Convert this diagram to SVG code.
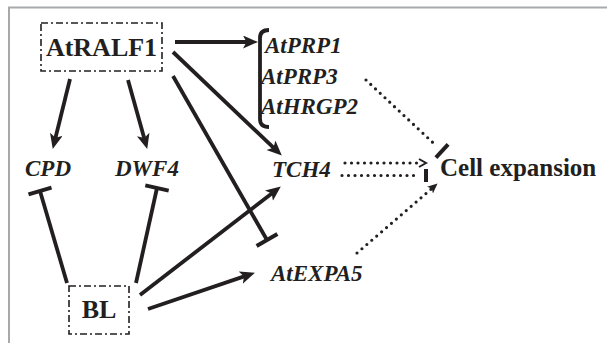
<svg xmlns="http://www.w3.org/2000/svg" width="607" height="343" viewBox="0 0 607 343">
<style>
.frame{stroke:#a7a9ac;stroke-width:2;fill:none}
.box{fill:none;stroke:#231f20;stroke-width:1.6;stroke-dasharray:7 3 2 3}
.lbl{font-family:"Liberation Serif","Times New Roman","DejaVu Serif",serif;font-weight:bold;font-size:26px;fill:#231f20}
.gene{font-family:"Liberation Serif","Times New Roman","DejaVu Serif",serif;font-weight:bold;font-style:italic;font-size:23px;fill:#231f20}
.ln{stroke:#231f20;stroke-width:3.8;fill:none}
.bar{stroke:#231f20;stroke-width:4;fill:none}
.dot{stroke:#231f20;stroke-width:3.2;fill:none;stroke-linecap:round;stroke-dasharray:0 6.5}
</style>
<defs>
<marker id="arr" markerUnits="userSpaceOnUse" markerWidth="20" markerHeight="16" refX="6" refY="6.5" orient="auto" viewBox="0 0 20 16">
<path d="M0,0 L15,6.5 L0,13 L3.5,6.5 Z" fill="#231f20"/>
</marker>
<marker id="arrs" markerUnits="userSpaceOnUse" markerWidth="14" markerHeight="12" refX="4" refY="4.5" orient="auto" viewBox="0 0 14 12">
<path d="M0,0 L10,4.5 L0,9 L2.5,4.5 Z" fill="#231f20"/>
</marker>
</defs>
<g id="frame">
<line class="frame" x1="8" y1="7.5" x2="607" y2="7.5"/>
<line class="frame" x1="9" y1="7" x2="9" y2="343"/>
</g>
<g id="connectors">
<line class="ln" x1="175" y1="42" x2="249" y2="42" marker-end="url(#arr)"/>
<line class="ln" x1="70" y1="79" x2="54.9" y2="140.2" marker-end="url(#arr)"/>
<line class="ln" x1="128" y1="80" x2="144.8" y2="140.3" marker-end="url(#arr)"/>
<line class="ln" x1="173" y1="52" x2="275.3" y2="149.4" marker-end="url(#arr)"/>
<line class="ln" x1="140" y1="295" x2="273.7" y2="191.9" marker-end="url(#arr)"/>
<line class="ln" x1="148" y1="309" x2="246.4" y2="275.6" marker-end="url(#arr)"/>
<line class="ln" x1="173" y1="76" x2="267" y2="240"/>
<line class="bar" x1="256.6" y1="246" x2="277.4" y2="234"/>
<line class="ln" x1="67" y1="283" x2="40" y2="191"/>
<line class="bar" x1="28.5" y1="194.4" x2="51.5" y2="187.6"/>
<line class="ln" x1="136" y1="283" x2="157" y2="188"/>
<line class="bar" x1="145.3" y1="185.4" x2="168.7" y2="190.6"/>
<line class="dot" x1="366" y1="80" x2="436" y2="145.5"/>
<line class="bar" x1="435.9" y1="157.6" x2="448.1" y2="144.4"/>
<line class="dot" x1="345" y1="163" x2="418" y2="163"/>
<polyline points="419,159 426,163 419,167" fill="none" stroke="#231f20" stroke-width="2"/>
<line class="dot" x1="342" y1="175.5" x2="420" y2="175.5"/>
<line class="bar" x1="426" y1="169" x2="426" y2="182"/>
<line class="dot" x1="357" y1="253" x2="433" y2="187.5" marker-end="url(#arrs)"/>
<path class="ln" d="M269,30 Q260,30 260,38 L260,119 Q260,127 269,127"/>
</g>
<g id="AtRALF1">
<rect class="box" x="41" y="23" width="121" height="48"/>
<text class="lbl" x="101.5" y="56" text-anchor="middle">AtRALF1</text>
</g>
<g id="BL">
<rect class="box" x="69" y="286" width="60" height="48"/>
<text class="lbl" x="99" y="318" text-anchor="middle">BL</text>
</g>
<g id="AtPRP1"><text class="gene" x="265" y="53">AtPRP1</text></g>
<g id="AtPRP3"><text class="gene" x="261" y="84">AtPRP3</text></g>
<g id="AtHRGP2"><text class="gene" x="261" y="114">AtHRGP2</text></g>
<g id="CPD"><text class="gene" x="25" y="176">CPD</text></g>
<g id="DWF4"><text class="gene" x="115" y="176">DWF4</text></g>
<g id="TCH4"><text class="gene" x="272" y="177">TCH4</text></g>
<g id="AtEXPA5"><text class="gene" x="271" y="281">AtEXPA5</text></g>
<g id="CellExpansion"><text class="lbl" x="440" y="176" style="font-size:25px">Cell expansion</text></g>
</svg>
